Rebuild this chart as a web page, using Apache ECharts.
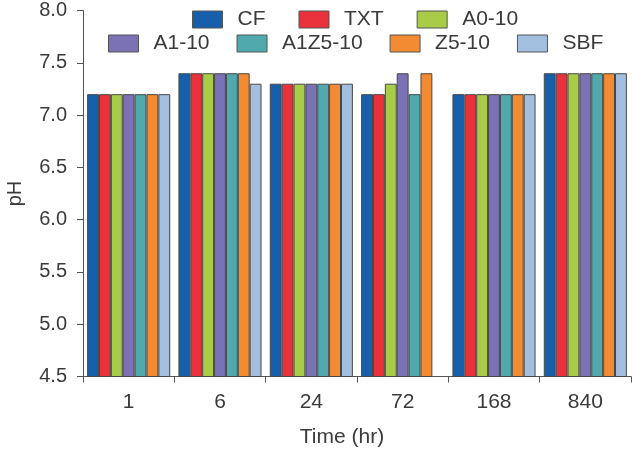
<!DOCTYPE html>
<html>
<head>
<meta charset="utf-8">
<script src="https://cdn.jsdelivr.net/npm/echarts@6/dist/echarts.min.js"></script>
<style>html,body{margin:0;padding:0;background:#fff;}#c{width:633px;height:450px;}</style>
</head>
<body>
<div id="c"></div>
<script>
var categories = ['1', '6', '24', '72', '168', '840'];
var seriesNames = ['CF', 'TXT', 'A0-10', 'A1-10', 'A1Z5-10', 'Z5-10', 'SBF'];
var CF      = [7.2, 7.4, 7.3, 7.2, 7.2, 7.4];
var TXT     = [7.2, 7.4, 7.3, 7.2, 7.2, 7.4];
var A0_10   = [7.2, 7.4, 7.3, 7.3, 7.2, 7.4];
var A1_10   = [7.2, 7.4, 7.3, 7.4, 7.2, 7.4];
var A1Z5_10 = [7.2, 7.4, 7.3, 7.2, 7.2, 7.4];
var Z5_10   = [7.2, 7.4, 7.3, 7.4, 7.2, 7.4];
var SBF     = [7.2, 7.3, 7.3, null, 7.2, 7.4];
var yTicks = ['4.5', '5.0', '5.5', '6.0', '6.5', '7.0', '7.5', '8.0'];

var values = [CF, TXT, A0_10, A1_10, A1Z5_10, Z5_10, SBF];
var colors = ['#1660ab', '#e8313b', '#a9cc48', '#7b72b5', '#50a9ad', '#f28b31', '#a2bfdf'];
var FONT = '"Liberation Sans", Arial, sans-serif';
var TXTC = '#3a3a3a';

var chart = echarts.init(document.getElementById('c'), null, {renderer: 'canvas'});
var series = seriesNames.map(function (n, i) {
  return {
    name: n, type: 'bar', data: values[i],
    barGap: '0%', barCategoryGap: '9%',
    itemStyle: {color: colors[i], borderColor: '#474747', borderWidth: 1},
    emphasis: {disabled: true}
  };
});
var legendBase = {
  itemWidth: 30, itemHeight: 17,
  icon: 'rect',
  itemStyle: {borderColor: '#555', borderWidth: 1},
  textStyle: {fontFamily: FONT, fontSize: 21, color: TXTC, padding: [0, 0, 0, 10]},
  selectedMode: false
};
chart.setOption({
  animation: false,
  backgroundColor: '#fff',
  grid: {left: 83, right: 2, top: 10.5, bottom: 73.5, containLabel: false, outerBoundsMode: 'none'},
  legend: [
    Object.assign({}, legendBase, {data: seriesNames.slice(0, 3), top: 4, left: 187, itemGap: 33}),
    Object.assign({}, legendBase, {data: seriesNames.slice(3), top: 28, left: 103, itemGap: 27})
  ],
  xAxis: {
    type: 'category', data: categories,
    name: 'Time (hr)', nameLocation: 'middle', nameGap: 50,
    nameTextStyle: {fontFamily: FONT, fontSize: 21, color: TXTC, padding: [0, 30, 0, 0]},
    axisLine: {lineStyle: {color: '#555', width: 1}},
    axisTick: {show: true, length: 6, alignWithLabel: false, lineStyle: {color: '#555'}},
    axisLabel: {fontFamily: FONT, fontSize: 21, color: TXTC, margin: 15}
  },
  yAxis: {
    type: 'value', min: 4.5, max: 8, interval: 0.5,
    name: 'pH', nameLocation: 'middle', nameGap: 58, nameRotate: 90,
    nameTextStyle: {fontFamily: FONT, fontSize: 20, color: TXTC},
    axisLine: {show: true, lineStyle: {color: '#555', width: 1}},
    axisTick: {show: true, length: 6, lineStyle: {color: '#555'}},
    splitLine: {show: false},
    axisLabel: {fontFamily: FONT, fontSize: 20, color: TXTC, margin: 16,
      formatter: function (v) { var s = v.toFixed(1); return yTicks.indexOf(s) >= 0 ? s : ''; }}
  },
  series: series
});
</script>
</body>
</html>
